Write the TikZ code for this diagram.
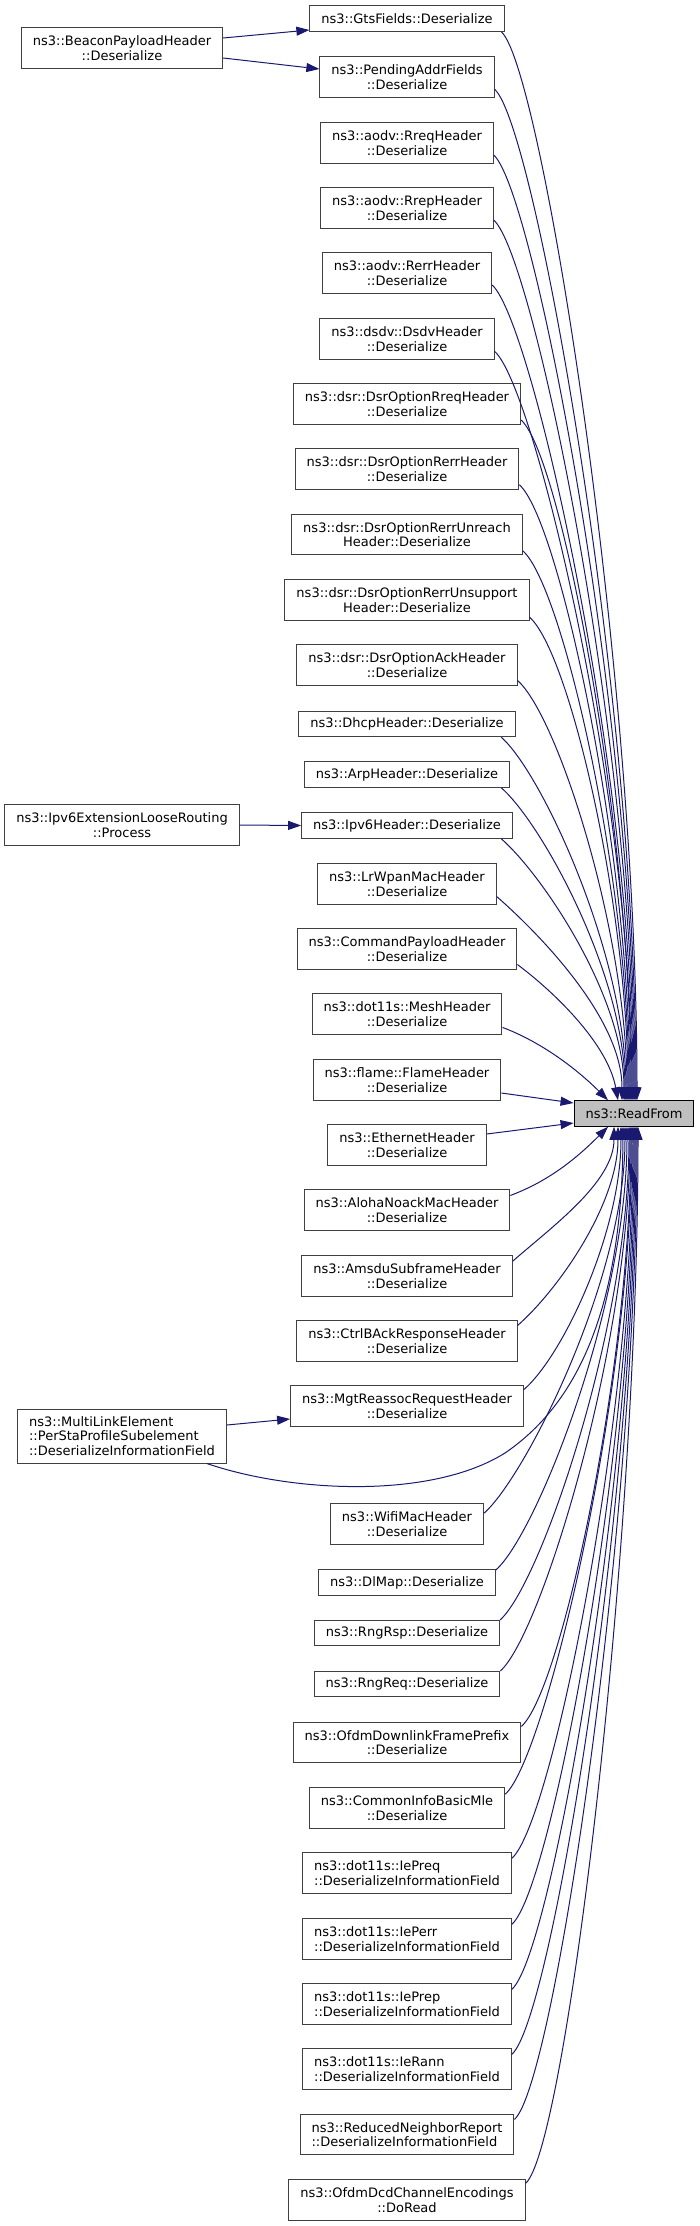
\documentclass[tikz,border=0pt]{standalone}
\usepackage{fontspec}
\setmainfont{DejaVu Sans}
\usetikzlibrary{arrows.meta}
\definecolor{edgeblue}{HTML}{191970}
\definecolor{boxline}{HTML}{404040}
\definecolor{rootfill}{HTML}{BFBFBF}
\tikzset{
  fn/.style={draw=boxline, fill=white, line width=1pt, inner xsep=11.5pt, inner ysep=0pt,
    font=\fontsize{13}{14.5}\selectfont, align=center},
  fnone/.style={fn, minimum height=25.5pt},
  fntwo/.style={fn, minimum height=40.5pt},
  fnthree/.style={fn, minimum height=54pt},
  root/.style={fnone, fill=rootfill, draw=black},
  call/.style={draw=edgeblue, line width=1pt, -{Triangle[length=13pt,width=9pt]}},
}
\begin{document}
\begin{tikzpicture}[x=1pt,y=1pt]
\useasboundingbox (0,0) rectangle (699,-2226);

\node[fnone] (gts) at (407,-18.5) {ns3::GtsFields::Deserialize};
\node[fntwo] (beacon) at (122,-48) {ns3::BeaconPayloadHeader\\::Deserialize};
\node[fntwo] (pend) at (407,-77) {ns3::PendingAddrFields\\::Deserialize};
\node[fntwo] (rreq) at (407,-143) {ns3::aodv::RreqHeader\\::Deserialize};
\node[fntwo] (rrep) at (407,-208) {ns3::aodv::RrepHeader\\::Deserialize};
\node[fntwo] (rerr) at (407,-273) {ns3::aodv::RerrHeader\\::Deserialize};
\node[fntwo] (dsdv) at (407,-339) {ns3::dsdv::DsdvHeader\\::Deserialize};
\node[fntwo] (dsrrreq) at (407,-404) {ns3::dsr::DsrOptionRreqHeader\\::Deserialize};
\node[fntwo] (dsrrerr) at (407,-469) {ns3::dsr::DsrOptionRerrHeader\\::Deserialize};
\node[fntwo] (unreach) at (407,-534.5) {ns3::dsr::DsrOptionRerrUnreach\\Header::Deserialize};
\node[fntwo] (unsupp) at (407,-600) {ns3::dsr::DsrOptionRerrUnsupport\\Header::Deserialize};
\node[fntwo] (ack) at (407,-665) {ns3::dsr::DsrOptionAckHeader\\::Deserialize};
\node[fnone] (dhcp) at (407,-724) {ns3::DhcpHeader::Deserialize};
\node[fnone] (arp) at (407,-774.5) {ns3::ArpHeader::Deserialize};
\node[fntwo] (loose) at (122,-825) {ns3::Ipv6ExtensionLooseRouting\\::Process};
\node[fnone] (ipv6) at (407,-825.5) {ns3::Ipv6Header::Deserialize};
\node[fntwo] (lrwpan) at (407,-884) {ns3::LrWpanMacHeader\\::Deserialize};
\node[fntwo] (cmd) at (407,-949) {ns3::CommandPayloadHeader\\::Deserialize};
\node[fntwo] (mesh) at (407,-1014) {ns3::dot11s::MeshHeader\\::Deserialize};
\node[fntwo] (flame) at (407,-1080) {ns3::flame::FlameHeader\\::Deserialize};
\node[root] (rf) at (634,-1113.5) {ns3::ReadFrom};
\node[fntwo] (eth) at (407,-1145) {ns3::EthernetHeader\\::Deserialize};
\node[fntwo] (aloha) at (407,-1210) {ns3::AlohaNoackMacHeader\\::Deserialize};
\node[fntwo] (amsdu) at (407,-1276) {ns3::AmsduSubframeHeader\\::Deserialize};
\node[fntwo] (ctrl) at (407,-1341) {ns3::CtrlBAckResponseHeader\\::Deserialize};
\node[fntwo] (mgt) at (407,-1406) {ns3::MgtReassocRequestHeader\\::Deserialize};
\node[fnthree,align=left] (mle) at (122,-1436) {ns3::MultiLinkElement\\::PerStaProfileSubelement\\::DeserializeInformationField};
\node[fntwo] (wifi) at (407,-1524) {ns3::WifiMacHeader\\::Deserialize};
\node[fnone] (dlmap) at (407,-1582.5) {ns3::DlMap::Deserialize};
\node[fnone] (rngrsp) at (407,-1633) {ns3::RngRsp::Deserialize};
\node[fnone] (rngreq) at (407,-1684) {ns3::RngReq::Deserialize};
\node[fntwo] (ofdmdl) at (407,-1742.5) {ns3::OfdmDownlinkFramePrefix\\::Deserialize};
\node[fntwo] (cinfo) at (407,-1808) {ns3::CommonInfoBasicMle\\::Deserialize};
\node[fntwo,align=left] (preq) at (407,-1873) {ns3::dot11s::IePreq\\::DeserializeInformationField};
\node[fntwo,align=left] (perr) at (407,-1939) {ns3::dot11s::IePerr\\::DeserializeInformationField};
\node[fntwo,align=left] (prep) at (407,-2004) {ns3::dot11s::IePrep\\::DeserializeInformationField};
\node[fntwo,align=left] (rann) at (407,-2069) {ns3::dot11s::IeRann\\::DeserializeInformationField};
\node[fntwo,align=left] (rnr) at (407,-2134.5) {ns3::ReducedNeighborReport\\::DeserializeInformationField};
\node[fntwo] (dcd) at (407,-2200) {ns3::OfdmDcdChannelEncodings\\::DoRead};

\draw[call] ([yshift=10pt]beacon.east) -- ([yshift=-11.5pt]gts.west);
\draw[call] ([yshift=-10pt]beacon.east) -- ([yshift=8pt]pend.west);
\draw[call] (loose.east) -- (ipv6.west);
\draw[call] ([yshift=11pt]mle.east) -- ([yshift=-13pt]mgt.west);

\foreach \nm/\sh/\cy in {gts/3/430, pend/2/405, rreq/1/380, rrep/0/354, rerr/-1/328,
    dsdv/-2/301, dsrrreq/-3/272, dsrrerr/-4/246, unreach/-5/220, unsupp/-6/194,
    ack/-7/168, dhcp/-8/146, arp/-9/126, ipv6/-10/105, lrwpan/-12/83}
  \draw[call] (\nm.-8) .. controls +(40,-35) and +(0,\cy) .. ([xshift=\sh pt]rf.north);
\draw[call] (cmd.-8) .. controls +(40,-30) and +(-10,55) .. ([xshift=-16pt]rf.north);
\draw[call] (mesh.-8) .. controls +(40,-15) and +(-30,30) .. ([xshift=-26pt]rf.north);

\draw[call] ([yshift=-13pt]flame.east) -- ([yshift=10.5pt]rf.west);
\draw[call] ([yshift=11pt]eth.east) -- ([yshift=-9.5pt]rf.west);

\draw[call] (aloha.8) .. controls +(40,15) and +(-30,-30) .. ([xshift=-26pt]rf.south);
\foreach \nm/\sh/\cy in {amsdu/-20/55, ctrl/-16/78, mgt/-13/104, wifi/-9/154,
    dlmap/-7/180, rngrsp/-5/200, rngreq/-4/220, ofdmdl/-3/238, cinfo/-2/265,
    preq/-1/291, perr/0/317, prep/1/343, rann/2/369, rnr/3/395, dcd/4/422}
  \draw[call] (\nm.8) .. controls +(40,35) and +(0,-\cy) .. ([xshift=\sh pt]rf.south);
\draw[call] ([xshift=-20pt]mle.south east) .. controls (290,-1492) and (430,-1500) .. (505,-1453)
  .. controls (565,-1412) and (622,-1330) .. ([xshift=-11pt]rf.south);
\end{tikzpicture}
\end{document}
